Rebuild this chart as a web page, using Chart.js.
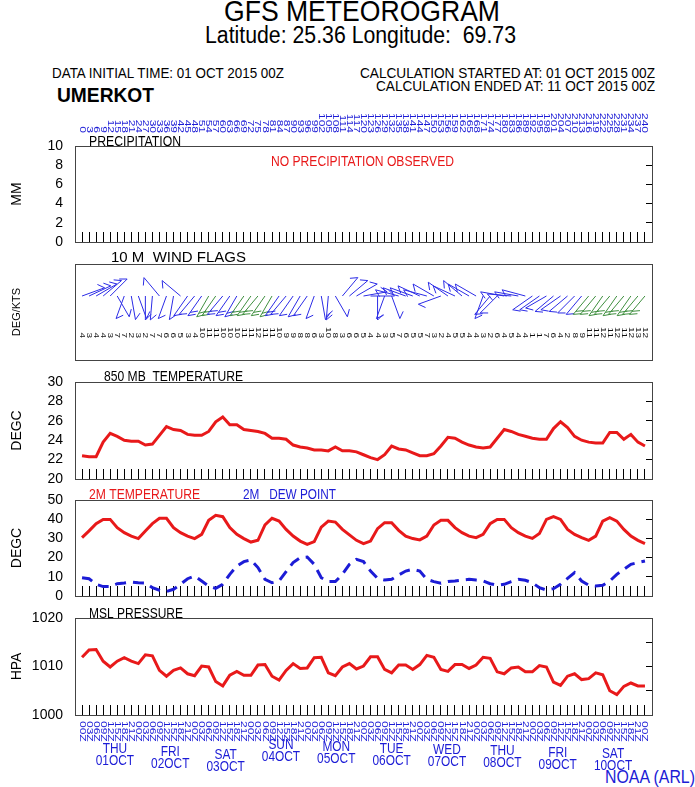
<!DOCTYPE html>
<html>
<head>
<meta charset="utf-8">
<title>GFS Meteogram - Umerkot</title>
<script src="https://cdn.jsdelivr.net/npm/chart.js@4.4.0/dist/chart.umd.min.js"></script>
<style>
  body { margin: 0; background: #fff; }
  #page { position: relative; width: 695px; height: 787px; overflow: hidden; background: #fff;
          font-family: "Liberation Sans", Arial, sans-serif; color: #000; }
  #page canvas { position: absolute; left: 0; }
  .t { position: absolute; white-space: nowrap; line-height: 1; transform-origin: 0 0; }
</style>
</head>
<body>
<div id="page">
  <div class="t" data-w="276" style="left:224px;top:-4px;font-size:30px">GFS METEOROGRAM</div>
  <div class="t" data-w="311" style="left:205px;top:24px;font-size:23px">Latitude: 25.36 Longitude:&nbsp; 69.73</div>
  <div class="t" data-w="232" style="left:52px;top:65px;font-size:15px">DATA INITIAL TIME: 01 OCT 2015 00Z</div>
  <div class="t" data-w="97" style="left:57px;top:84px;font-size:21px;font-weight:bold">UMERKOT</div>
  <div class="t" data-w="295" style="left:360px;top:65px;font-size:15px">CALCULATION STARTED AT: 01 OCT 2015 00Z</div>
  <div class="t" data-w="279" style="left:376px;top:78px;font-size:15px">CALCULATION ENDED AT: 11 OCT 2015 00Z</div>
  <div class="t" data-w="90" style="left:605px;top:767px;font-size:19px;color:#1c1cd6">NOAA (ARL)</div>
</div>
<script>
// forecast hours (every 3 h from 01 OCT 2015 00Z)
const hours = [
  0, 3, 6, 9, 12, 15, 18, 21,
  24, 27, 30, 33, 36, 39, 42, 45,
  48, 51, 54, 57, 60, 63, 66, 69,
  72, 75, 78, 81, 84, 87, 90, 93,
  96, 99, 102, 105, 108, 111, 114, 117,
  120, 123, 126, 129, 132, 135, 138, 141,
  144, 147, 150, 153, 156, 159, 162, 165,
  168, 171, 174, 177, 180, 183, 186, 189,
  192, 195, 198, 201, 204, 207, 210, 213,
  216, 219, 222, 225, 228, 231, 234, 237,
  240
];

// 850 mb temperature (degC)
const t850 = [
  22.4, 22.3, 22.3, 23.8, 24.7, 24.4, 24.0, 23.9,
  23.9, 23.5, 23.6, 24.5, 25.4, 25.1, 25.0, 24.6,
  24.5, 24.5, 24.9, 25.9, 26.4, 25.6, 25.6, 25.1,
  25.0, 24.9, 24.7, 24.2, 24.2, 24.1, 23.5, 23.3,
  23.2, 23.0, 23.0, 22.9, 23.3, 22.9, 22.9, 22.8,
  22.5, 22.2, 22.0, 22.5, 23.4, 23.1, 23.0, 22.7,
  22.4, 22.4, 22.6, 23.4, 24.3, 24.2, 23.8, 23.5,
  23.3, 23.2, 23.3, 24.2, 25.1, 24.9, 24.6, 24.4,
  24.2, 24.1, 24.1, 25.2, 25.9, 25.3, 24.4, 24.0,
  23.8, 23.7, 23.7, 24.8, 24.8, 24.1, 24.6, 23.8,
  23.4
];

// 2 m temperature (degC)
const t2m = [
  30.4, 33.9, 37.7, 39.9, 39.9, 35.6, 33.0, 31.2,
  29.9, 33.9, 37.7, 40.5, 40.5, 35.6, 33.0, 31.2,
  29.9, 32.1, 39.4, 42.0, 41.3, 35.6, 32.1, 29.9,
  28.1, 29.0, 37.0, 40.5, 39.0, 34.7, 31.2, 28.6,
  26.9, 28.3, 35.9, 39.0, 38.5, 34.7, 31.8, 29.0,
  27.3, 28.6, 35.1, 38.2, 38.2, 34.2, 31.2, 29.9,
  29.2, 31.2, 37.0, 39.4, 39.4, 35.6, 33.0, 31.2,
  30.4, 32.1, 37.7, 39.9, 39.9, 35.6, 33.0, 31.2,
  30.0, 32.5, 39.9, 41.3, 39.9, 34.7, 32.1, 30.4,
  29.0, 31.2, 39.0, 40.8, 39.0, 34.7, 31.2, 29.0,
  27.3
];

// 2 m dew point (degC)
const td2m = [
  9.5, 9.0, 6.1, 4.9, 4.9, 6.4, 6.8, 7.3,
  6.9, 6.8, 4.3, 3.0, 2.3, 3.5, 6.1, 9.0,
  10.4, 7.8, 5.2, 4.0, 6.1, 11.3, 15.6, 17.9,
  18.8, 14.8, 8.7, 6.9, 7.8, 12.7, 17.4, 20.0,
  20.3, 16.5, 9.5, 7.5, 7.5, 11.3, 16.5, 19.1,
  17.9, 13.0, 9.2, 8.3, 8.7, 10.9, 13.0, 13.9,
  13.0, 8.7, 7.5, 6.6, 7.5, 7.8, 8.3, 8.7,
  8.3, 7.8, 6.4, 5.6, 6.1, 7.5, 8.7, 8.2,
  6.9, 4.3, 3.1, 3.8, 6.1, 9.2, 12.2, 7.8,
  5.6, 5.2, 5.6, 7.8, 11.3, 13.9, 16.5, 17.4,
  18.2
];

// mean sea level pressure (hPa)
const mslp = [
  1011.9, 1013.4, 1013.5, 1011.1, 1009.9, 1011.1, 1011.8, 1011.1,
  1010.6, 1012.4, 1012.2, 1009.2, 1008.0, 1009.2, 1009.7, 1008.5,
  1008.1, 1010.1, 1009.9, 1006.9, 1006.0, 1008.2, 1009.0, 1008.2,
  1008.2, 1010.3, 1010.4, 1008.0, 1007.2, 1009.2, 1010.6, 1009.6,
  1009.7, 1011.8, 1011.9, 1008.7, 1008.1, 1009.9, 1010.6, 1009.5,
  1010.1, 1012.0, 1012.0, 1009.4, 1008.7, 1010.3, 1010.3, 1009.4,
  1010.4, 1012.3, 1011.9, 1009.4, 1009.0, 1010.4, 1010.4, 1009.6,
  1010.3, 1011.9, 1011.7, 1008.9, 1008.5, 1009.7, 1009.9, 1008.9,
  1008.9, 1010.2, 1009.9, 1006.8, 1006.1, 1008.0, 1008.5, 1007.3,
  1007.5, 1008.7, 1008.3, 1005.0, 1004.2, 1005.9, 1006.6, 1006.0,
  1006.0
];

// 10 m wind: direction (deg, from) and speed (kts)
const windDir = [
  70, 65, 60, 50, 45, 150, 200, 170,
  160, 180, 185, 320, 200, 190, 310, 215,
  220, 215, 210, 215, 220, 215, 210, 215,
  215, 220, 215, 210, 215, 220, 215, 210,
  215, 200, 170, 185, 150, 40, 50, 60,
  80, 90, 180, 200, 160, 285, 290, 290,
  295, 285, 300, 250, 305, 295, 310, 300,
  300, 200, 220, 225, 280, 275, 280, 285,
  235, 235, 240, 230, 235, 230, 225, 220,
  220, 220, 215, 220, 215, 220, 215, 220,
  220
];
const windSpd = [
  4, 3, 4, 4, 3, 7, 7, 2,
  3, 2, 7, 7, 6, 6, 5, 3,
  4, 10, 11, 11, 10, 10, 10, 11,
  11, 12, 11, 11, 10, 9, 9, 8,
  8, 6, 3, 10, 8, 3, 6, 6,
  5, 4, 4, 3, 5, 7, 6, 5,
  5, 7, 3, 2, 4, 5, 5, 4,
  4, 3, 2, 6, 4, 5, 4, 4,
  1, 1, 7, 6, 4, 2, 8, 9,
  11, 11, 12, 11, 12, 11, 12, 13,
  12
];

const dayNames = ['THU', 'FRI', 'SAT', 'SUN', 'MON', 'TUE', 'WED', 'THU', 'FRI', 'SAT'];
const dayDates = ['01OCT', '02OCT', '03OCT', '04OCT', '05OCT', '06OCT', '07OCT', '08OCT', '09OCT', '10OCT'];
const hourLabels = hours.map(h => String(h));
const utcLabels = hours.map(h => String(h % 24).padStart(2, '0') + 'Z');

const FONT = '"Liberation Sans", Arial, sans-serif';
const RED = '#e8191a';
const BLUE = '#1c1cd6';
const WIND_BLUE = '#2b2be6';
const WIND_GREEN = '#3f8f3f';

// squeeze a text into a given width (the original uses a narrow font)
function fitText(ctx, text, x, y, width, font, color) {
  ctx.save();
  ctx.font = font;
  ctx.fillStyle = color;
  ctx.textAlign = 'left';
  ctx.textBaseline = 'alphabetic';
  const w = ctx.measureText(text).width;
  ctx.translate(x, y);
  ctx.scale(width / w, 1);
  ctx.fillText(text, 0, 0);
  ctx.restore();
}

// rotated (clockwise) small label, anchored at its start or its end
function vText(ctx, text, x, y, size, color, align) {
  ctx.save();
  ctx.translate(x, y);
  ctx.rotate(Math.PI / 2);
  ctx.scale(1, 0.75);
  ctx.font = size + 'px ' + FONT;
  ctx.fillStyle = color;
  ctx.textAlign = align;
  ctx.textBaseline = 'middle';
  ctx.fillText(text, 0, 0);
  ctx.restore();
}

function drawBarb(ctx, x, y, dir, spd) {
  const L = 24;
  const r = dir * Math.PI / 180;
  const ux = Math.sin(r), uy = -Math.cos(r);
  const px = uy, py = -ux;
  const bx = px * 0.7 - ux * 0.7, by = py * 0.7 - uy * 0.7;
  const n = spd >= 10 ? 2 : 1;
  ctx.strokeStyle = spd >= 11 ? WIND_GREEN : WIND_BLUE;
  ctx.lineWidth = 1;
  ctx.beginPath();
  ctx.moveTo(x, y);
  ctx.lineTo(x + ux * L, y + uy * L);
  for (let k = 0; k < n; k++) {
    const sx = x + ux * (L - k * 4), sy = y + uy * (L - k * 4);
    ctx.moveTo(sx, sy);
    ctx.lineTo(sx + bx * 8, sy + by * 8);
  }
  ctx.stroke();
}

function makePanel(p) {
  const cv = document.createElement('canvas');
  cv.width = 695;
  cv.height = p.bottom - p.top;
  cv.style.top = p.top + 'px';
  document.getElementById('page').appendChild(cv);

  const scales = {
    x: {
      type: 'linear', min: -3, max: 243, position: 'bottom',
      afterFit: s => { s.height = p.bottom - p.areaBottom; s.paddingLeft = s.paddingRight = 0; },
      afterBuildTicks: s => { s.ticks = s.ticks.filter(t => t.value >= 0 && t.value <= 240); },
      ticks: { display: false, stepSize: 3, autoSkip: false },
      grid: { display: p.xTicks, drawOnChartArea: false, tickLength: -10, color: '#000', lineWidth: 1 },
      border: { display: false }
    },
    y: {
      min: p.yMin, max: p.yMax, position: 'left',
      // fixed axis width; no extra label padding so the plot box lands where the original has it
      afterFit: s => { s.width = 75; s.paddingTop = s.paddingBottom = 0; },
      ticks: {
        display: p.yStep != null, stepSize: p.yStep, padding: 12, color: '#000',
        autoSkip: false,
        font: { family: FONT, size: 14 },
        callback: p.yLabel || (v => v)
      },
      grid: { display: false, drawTicks: false },
      border: { display: false },
      title: {
        display: true, text: p.yTitle, color: '#000',
        font: { family: FONT, size: p.yTitleSize || 14 },
        padding: { top: p.yTitlePad || 8.6, bottom: 0 }
      }
    }
  };
  if (p.yStep != null) {
    scales.y2 = {
      min: p.yMin, max: p.yMax, position: 'right',
      afterFit: s => { s.width = 0; s.paddingTop = s.paddingBottom = 0; },
      ticks: { display: false, stepSize: p.yStep },
      grid: { drawOnChartArea: false, tickLength: -6, color: '#000', lineWidth: 1 },
      border: { display: false }
    };
  }

  return new Chart(cv, {
    type: 'line',
    data: { datasets: p.datasets },
    options: {
      responsive: false,
      animation: false,
      devicePixelRatio: 1,
      events: [],
      layout: { padding: { top: p.areaTop - p.top, right: 43, left: 0, bottom: 0 } },
      plugins: { legend: { display: false }, tooltip: { enabled: false } },
      scales
    },
    plugins: [{
      id: 'frame',
      afterDraw(chart) {
        const ctx = chart.ctx, a = chart.chartArea;
        ctx.save();
        ctx.strokeStyle = '#444';
        ctx.lineWidth = 1;
        ctx.strokeRect(Math.round(a.left) + 0.5, Math.round(a.top) + 0.5,
                       Math.round(a.right - a.left), Math.round(a.bottom - a.top));
        ctx.restore();
        for (const t of p.titles) {
          fitText(ctx, t.text, t.x, t.y - p.top, t.w, '14px ' + FONT, t.color || '#000');
        }
        if (p.extra) p.extra(ctx, chart, p.top);
      }
    }]
  });
}

const pts = vals => hours.map((h, i) => ({ x: h, y: vals[i] }));

// precipitation
makePanel({
  top: 100, bottom: 256, areaTop: 146, areaBottom: 242,
  yMin: 0, yMax: 10, yStep: 2, yTitle: 'MM', xTicks: true,
  datasets: [],
  titles: [
    { text: 'PRECIPITATION', x: 89, y: 146, w: 92 },
    { text: 'NO PRECIPITATION OBSERVED', x: 271, y: 166, w: 183, color: RED }
  ],
  extra(ctx, chart, off) {
    const xs = chart.scales.x;
    hours.forEach((h, i) => vText(ctx, hourLabels[i], xs.getPixelForValue(h), 133 - off, 12, BLUE, 'right'));
  }
});

// 10 m wind flags
makePanel({
  top: 250, bottom: 372, areaTop: 264, areaBottom: 360,
  yMin: 0, yMax: 1, yStep: null, yTitle: 'DEG/KTS', yTitleSize: 11, yTitlePad: 10.4, xTicks: false,
  datasets: [{ data: pts(hours.map(() => 0.5)), showLine: false, pointRadius: 0 }],
  titles: [{ text: '10 M  WIND FLAGS', x: 111, y: 262, w: 135 }],
  extra(ctx, chart, off) {
    const xs = chart.scales.x;
    hours.forEach((h, i) => {
      const x = xs.getPixelForValue(h);
      drawBarb(ctx, x, 296 - off, windDir[i], windSpd[i]);
      vText(ctx, String(windSpd[i]), x, 338 - off, 10, '#111', 'right');
    });
  }
});

// 850 mb temperature
makePanel({
  top: 360, bottom: 492, areaTop: 382, areaBottom: 479,
  yMin: 20, yMax: 30, yStep: 2, yTitle: 'DEGC', xTicks: true,
  datasets: [{ data: pts(t850), borderColor: RED, borderWidth: 3, pointRadius: 0, tension: 0 }],
  titles: [{ text: '850 MB  TEMPERATURE', x: 104, y: 381, w: 139 }]
});

// 2 m temperature and dew point
makePanel({
  top: 478, bottom: 610, areaTop: 500, areaBottom: 596,
  yMin: 0, yMax: 50, yStep: 10, yTitle: 'DEGC', xTicks: true,
  datasets: [
    { data: pts(t2m), borderColor: RED, borderWidth: 3, pointRadius: 0, tension: 0 },
    { data: pts(td2m), borderColor: BLUE, borderWidth: 3, borderDash: [11, 7], pointRadius: 0, tension: 0 }
  ],
  titles: [
    { text: '2M TEMPERATURE', x: 89, y: 499, w: 111, color: RED },
    { text: '2M   DEW POINT', x: 243, y: 499, w: 93, color: BLUE }
  ]
});

// mean sea level pressure + time axis
makePanel({
  top: 596, bottom: 787, areaTop: 618, areaBottom: 715,
  yMin: 1000, yMax: 1020, yStep: 5, yLabel: v => (v % 10 === 0 ? v : ''), yTitle: 'HPA', xTicks: true,
  datasets: [{ data: pts(mslp), borderColor: RED, borderWidth: 3, pointRadius: 0, tension: 0 }],
  titles: [{ text: 'MSL PRESSURE', x: 89, y: 618, w: 94 }],
  extra(ctx, chart, off) {
    const xs = chart.scales.x;
    hours.forEach((h, i) => vText(ctx, utcLabels[i], xs.getPixelForValue(h), 721 - off, 12, BLUE, 'left'));
    const base = [753, 756, 759, 749, 751, 753, 754, 755, 757, 758];
    dayNames.forEach((d, k) => {
      const x = xs.getPixelForValue(14 + 23.6 * k);
      ctx.save();
      ctx.fillStyle = BLUE;
      ctx.font = '14px ' + FONT;
      ctx.textAlign = 'center';
      ctx.translate(x, base[k] - off);
      ctx.scale(0.85, 1);
      ctx.fillText(d, 0, 0);
      ctx.fillText(dayDates[k], 0, 12);
      ctx.restore();
    });
  }
});

// fit header lines to the widths of the narrow original font
document.querySelectorAll('.t').forEach(el => {
  const w = el.getBoundingClientRect().width;
  el.style.transform = 'scaleX(' + (el.dataset.w / w) + ')';
});
</script>
</body>
</html>
